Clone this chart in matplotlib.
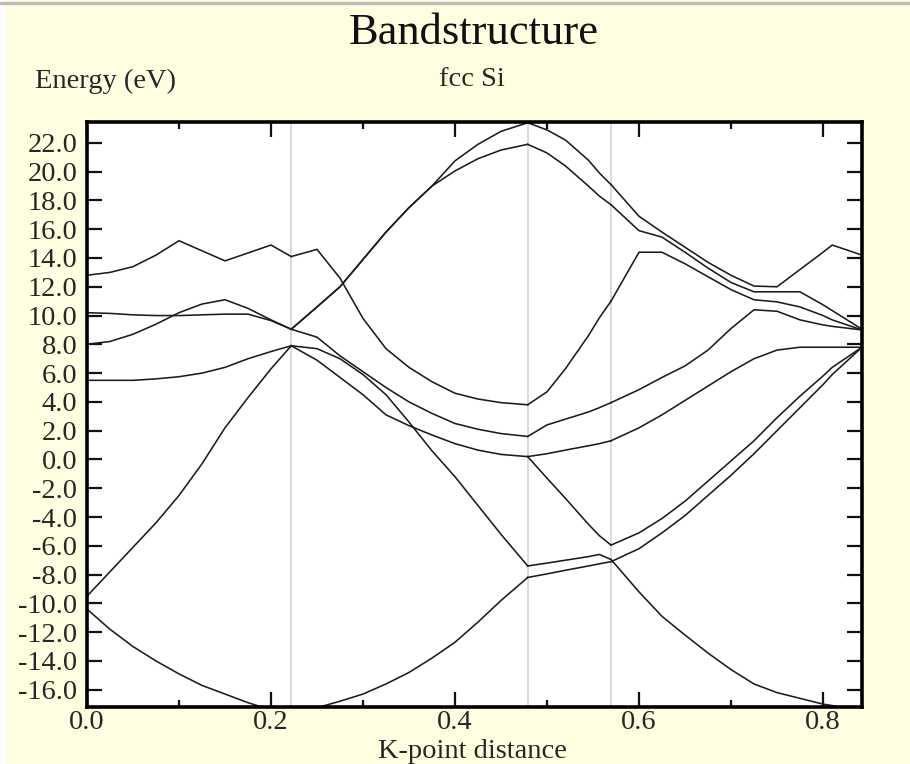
"""Recreate the fcc Si band structure plot (L-G-X-U-G path)."""
from __future__ import annotations

import matplotlib

matplotlib.use("Agg")
import matplotlib.pyplot as plt
from matplotlib.lines import Line2D
from matplotlib.patches import Rectangle
from matplotlib.ticker import FormatStrFormatter, MultipleLocator

# high-symmetry positions along the path (vertical guide lines)
SYM_K = [0.222, 0.479, 0.5696]
K_MAX = 0.8424
Y_RANGE = (-17.2, 23.45)

# L -> Gamma
K_LG = [0.0, 0.025, 0.05, 0.075, 0.1, 0.125, 0.15, 0.175, 0.2, 0.222]
LG_1 = [12.8, 13.0, 13.4, 14.2, 15.2, 14.5, 13.8, 14.35, 14.9, 14.1]
LG_2 = [10.2, 10.15, 10.05, 10.0, 10.0, 10.05, 10.1, 10.1, 9.65, 9.05]
LG_3 = [8.0, 8.2, 8.7, 9.4, 10.2, 10.8, 11.1, 10.5, 9.7, 9.05]
LG_4 = [5.5, 5.5, 5.5, 5.6, 5.75, 6.0, 6.4, 7.0, 7.5, 7.9]
LG_5 = [-9.5, -7.8, -6.1, -4.4, -2.5, -0.3, 2.2, 4.3, 6.3, 7.9]
LG_6 = [-10.4, -11.8, -13.0, -14.0, -14.9, -15.7, -16.3, -16.9, -17.4, -17.6]

# Gamma -> X
K_GX = [0.222, 0.25, 0.275, 0.3, 0.325, 0.35, 0.375, 0.4, 0.425, 0.45, 0.479]
GX_1 = [14.1, 14.6, 12.6, 9.8, 7.7, 6.4, 5.4, 4.6, 4.2, 3.95, 3.8]
GX_2 = [9.05, 10.6, 12.0, 13.9, 15.8, 17.5, 19.0, 20.75, 21.9, 22.8, 23.4]
GX_3 = [9.05, 10.6, 12.0, 13.9, 15.8, 17.5, 19.0, 20.05, 20.9, 21.5, 21.9]
GX_4 = [9.05, 8.5, 7.2, 6.1, 5.0, 4.0, 3.2, 2.5, 2.1, 1.8, 1.6]
GX_5 = [7.9, 6.9, 5.7, 4.5, 3.1, 2.35, 1.7, 1.1, 0.65, 0.35, 0.2]
GX_6 = [7.9, 7.7, 7.0, 5.9, 4.5, 2.6, 0.6, -1.2, -3.2, -5.2, -7.4]
GX_7 = [-17.6, -17.25, -16.8, -16.3, -15.6, -14.8, -13.8, -12.7, -11.3, -9.8, -8.2]

# X -> U
K_XU = [0.479, 0.5, 0.52, 0.545, 0.557, 0.5696]
XU_1 = [23.4, 22.9, 22.2, 20.8, 19.9, 19.1]
XU_2 = [21.9, 21.3, 20.4, 19.0, 18.3, 17.7]
XU_3 = [3.8, 4.7, 6.3, 8.6, 9.85, 11.0]
XU_4 = [1.6, 2.4, 2.8, 3.3, 3.6, 3.95]
XU_5 = [0.2, 0.4, 0.65, 0.95, 1.1, 1.3]
XU_6 = [0.2, -1.3, -2.7, -4.5, -5.3, -5.95]
XU_7 = [-7.4, -7.2, -7.0, -6.75, -6.6, -6.95]
XU_8 = [-8.2, -7.95, -7.7, -7.4, -7.25, -7.1]

# U -> Gamma
K_UG = [0.5696, 0.6, 0.625, 0.65, 0.675, 0.7, 0.725, 0.75, 0.775, 0.8, 0.81, 0.8424]
UG_1 = [19.1, 16.9, 15.8, 14.75, 13.7, 12.8, 12.05, 12.0, 13.2, 14.4, 14.9, 14.2]
UG_2 = [17.7, 15.9, 15.45, 14.4, 13.3, 12.3, 11.65, 11.65, 11.65, 10.75, 10.35, 9.05]
UG_3 = [11.0, 14.4, 14.4, 13.6, 12.7, 11.8, 11.1, 10.95, 10.6, 10.0, 9.7, 9.0]
UG_4 = [3.95, 4.85, 5.7, 6.5, 7.6, 9.1, 10.4, 10.3, 9.7, 9.35, 9.25, 9.0]
UG_5 = [1.3, 2.2, 3.1, 4.1, 5.1, 6.1, 7.0, 7.6, 7.8, 7.8, 7.8, 7.8]
UG_6 = [-5.95, -5.1, -4.1, -2.9, -1.5, -0.1, 1.3, 2.9, 4.4, 5.8, 6.4, 7.8]
UG_7 = [-7.1, -6.2, -5.1, -3.9, -2.5, -1.1, 0.4, 2.0, 3.6, 5.2, 5.9, 7.8]
UG_8 = [-6.95, -9.2, -10.9, -12.2, -13.45, -14.6, -15.6, -16.2, -16.6, -17.0, -17.1, -17.6]

SEGMENTS = [
    (K_LG, [LG_1, LG_2, LG_3, LG_4, LG_5, LG_6]),
    (K_GX, [GX_1, GX_2, GX_3, GX_4, GX_5, GX_6, GX_7]),
    (K_XU, [XU_1, XU_2, XU_3, XU_4, XU_5, XU_6, XU_7, XU_8]),
    (K_UG, [UG_1, UG_2, UG_3, UG_4, UG_5, UG_6, UG_7, UG_8]),
]

BG = "#fffee0"
TEXT = "#262626"
W, H = 910, 764


def fx(px: float) -> float:
    return px / W


def fy(py: float) -> float:
    return 1 - py / H


def main() -> None:
    plt.rcParams["font.family"] = ["Liberation Serif", "DejaVu Serif"]
    fig = plt.figure(figsize=(W / 100, H / 100), dpi=100, facecolor=BG)

    # white strip on the left and grey rule at the top of the screenshot
    fig.add_artist(Rectangle((0, 0), fx(6), 1, transform=fig.transFigure,
                             facecolor="white", edgecolor="none"))
    fig.add_artist(Line2D([0, 1], [fy(3), fy(3)], transform=fig.transFigure,
                          color="#bdbdbd", linewidth=2.5))

    ax = fig.add_axes([fx(87), fy(707), fx(862 - 87), (707 - 122) / H])
    ax.set_facecolor("white")

    for k in SYM_K:
        ax.axvline(k, color="#d4d4d4", linewidth=1.2, zorder=1)

    for ks, bands in SEGMENTS:
        for band in bands:
            ax.plot(ks, band, color="#1c1c1c", linewidth=1.15, zorder=2)

    ax.set_xlim(0, K_MAX)
    ax.set_ylim(*Y_RANGE)

    ax.xaxis.set_major_locator(MultipleLocator(0.2))
    ax.xaxis.set_minor_locator(MultipleLocator(0.1))
    ax.xaxis.set_major_formatter(FormatStrFormatter("%.1f"))
    ax.yaxis.set_major_locator(MultipleLocator(2.0))
    ax.yaxis.set_major_formatter(FormatStrFormatter("%.1f"))

    ax.tick_params(axis="both", which="both", direction="in", colors="#111111",
                   labelcolor=TEXT, labelsize=20.5, top=True, right=True)
    ax.tick_params(axis="both", which="major", length=11, width=1.6)
    ax.tick_params(axis="x", which="minor", length=5, width=1.6)
    ax.tick_params(axis="y", which="major", pad=7)
    ax.tick_params(axis="x", which="major", pad=2)

    for spine in ax.spines.values():
        spine.set_linewidth(2.6)
        spine.set_color("black")

    fig.text(fx(474), fy(33), "Bandstructure", ha="center", va="center",
             fontsize=32, color="#111111")
    fig.text(fx(35), fy(81), "Energy (eV)", ha="left", va="center",
             fontsize=20.5, color=TEXT)
    fig.text(fx(472), fy(79), "fcc Si", ha="center", va="center",
             fontsize=20.5, color=TEXT)
    fig.text(fx(472), fy(751), "K-point distance", ha="center", va="center",
             fontsize=20.5, color=TEXT)

    fig.savefig("out.png", dpi=100, facecolor=BG)
    plt.close(fig)


if __name__ == "__main__":
    main()
